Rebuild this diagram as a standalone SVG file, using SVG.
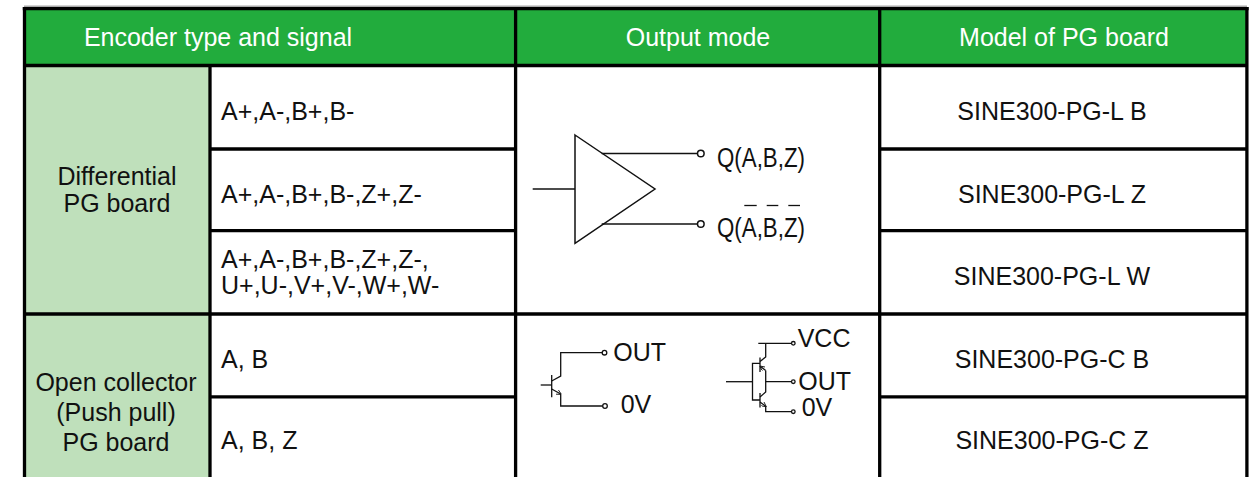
<svg xmlns="http://www.w3.org/2000/svg" width="1250" height="477" viewBox="0 0 1250 477">
<style>
.t{font-family:"Liberation Sans",Arial,sans-serif;font-size:25px;fill:#111}
.h{font-family:"Liberation Sans",Arial,sans-serif;font-size:25px;fill:#fff;text-anchor:middle}
.c{text-anchor:middle}
.g{stroke:#000;stroke-width:3.3;fill:none}
.s{stroke:#111;stroke-width:1.5;fill:none}
.s2{stroke:#111;stroke-width:1.3;fill:none}
.q{font-family:"Liberation Sans",Arial,sans-serif;font-size:27px;fill:#111}
</style>
<defs>
<marker id="ar" viewBox="0 0 6 6" refX="5" refY="3" markerWidth="5" markerHeight="5" orient="auto" markerUnits="userSpaceOnUse">
<path d="M0,0 L6,3 L0,6" fill="none" stroke="#111" stroke-width="1"/>
</marker>
</defs>
<rect x="0" y="0" width="1250" height="477" fill="#fff"/>
<g id="header">
<line x1="24" y1="6.3" x2="1247" y2="6.3" stroke="#aaa" stroke-width="1.5"/>
<rect x="24" y="8" width="1223" height="58" fill="#22AC3D"/>
<text class="h" x="218" y="46">Encoder type and signal</text>
<text class="h" x="698" y="46">Output mode</text>
<text class="h" x="1064" y="46">Model of PG board</text>
</g>
<g id="type-differential">
<rect x="24" y="66" width="186" height="248" fill="#BFE0BB"/>
<text class="t c" x="117" y="185">Differential</text>
<text class="t c" x="117" y="212">PG board</text>
</g>
<g id="type-open-collector">
<rect x="24" y="314" width="186" height="163" fill="#BFE0BB"/>
<text class="t c" x="116" y="390.5">Open collector</text>
<text class="t c" x="116" y="421">(Push pull)</text>
<text class="t c" x="116" y="450.5">PG board</text>
</g>
<g id="signals">
<text class="t" x="221" y="120">A+,A-,B+,B-</text>
<text class="t" x="221" y="202.5">A+,A-,B+,B-,Z+,Z-</text>
<text class="t" x="221" y="268">A+,A-,B+,B-,Z+,Z-,</text>
<text class="t" x="221" y="294">U+,U-,V+,V-,W+,W-</text>
<text class="t" x="221" y="368">A, B</text>
<text class="t" x="221" y="449">A, B, Z</text>
</g>
<g id="models">
<text class="t c" x="1052" y="120">SINE300-PG-L B</text>
<text class="t c" x="1052" y="202.5">SINE300-PG-L Z</text>
<text class="t c" x="1052" y="284.5">SINE300-PG-L W</text>
<text class="t c" x="1052" y="368">SINE300-PG-C B</text>
<text class="t c" x="1052" y="449">SINE300-PG-C Z</text>
</g>
<g id="output-differential">
<polygon class="s" points="575,135 655,189 575,243.3"/>
<line class="s" x1="532.7" y1="189" x2="575" y2="189"/>
<line class="s" x1="601.7" y1="153.5" x2="697.5" y2="153.5"/>
<line class="s" x1="601.7" y1="224" x2="697.5" y2="224"/>
<circle class="s" cx="700.8" cy="153.5" r="3.3" fill="#fff"/>
<circle class="s" cx="700.8" cy="224" r="3.3" fill="#fff"/>
<text class="q" x="717" y="166.7" textLength="88" lengthAdjust="spacingAndGlyphs">Q(A,B,Z)</text>
<text class="q" x="717" y="236.5" textLength="88" lengthAdjust="spacingAndGlyphs">Q(A,B,Z)</text>
<line class="s2" x1="744.3" y1="205.5" x2="756.7" y2="205.5"/>
<line class="s2" x1="766.7" y1="205.5" x2="778.3" y2="205.5"/>
<line class="s2" x1="788.3" y1="205.5" x2="800" y2="205.5"/>
</g>
<g id="output-open-collector">
<line class="s2" x1="551.7" y1="375" x2="551.7" y2="397.3"/>
<line class="s2" x1="540.7" y1="385" x2="551.7" y2="385"/>
<polyline class="s2" points="551.7,381 560.7,376 560.7,352.7 602.2,352.7"/>
<line class="s2" x1="551.7" y1="389" x2="560.7" y2="394" marker-end="url(#ar)"/>
<polyline class="s2" points="560.7,394 560.7,406 602.6,406"/>
<circle class="s2" cx="604.5" cy="352.7" r="2.3" fill="#fff"/>
<circle class="s2" cx="605" cy="406" r="2.3" fill="#fff"/>
<text class="t" x="613.3" y="360.7">OUT</text>
<text class="t" x="620.7" y="413.3">0V</text>
</g>
<g id="output-push-pull">
<line class="s2" x1="726" y1="381.7" x2="752.5" y2="381.7"/>
<polyline class="s2" points="760,363.3 752.5,363.3 752.5,400 760,400"/>
<line class="s2" x1="760" y1="357.5" x2="760" y2="372"/>
<line class="s2" x1="760" y1="393" x2="760" y2="407.5"/>
<polyline class="s2" points="760,361.5 765.7,357 765.7,343.3"/>
<line class="s2" x1="758.3" y1="343.3" x2="791.5" y2="343.3"/>
<line class="s2" x1="765.7" y1="370.5" x2="760.5" y2="366.5" marker-end="url(#ar)"/>
<polyline class="s2" points="765.7,370.5 765.7,381.7 791.5,381.7"/>
<polyline class="s2" points="760,397 765.7,392 765.7,381.7"/>
<line class="s2" x1="760" y1="402" x2="765.7" y2="406.3" marker-end="url(#ar)"/>
<polyline class="s2" points="765.7,406.3 765.7,411.7 791.5,411.7"/>
<circle class="s2" cx="793.3" cy="343.3" r="1.8" fill="#fff"/>
<circle class="s2" cx="793.3" cy="381.7" r="1.8" fill="#fff"/>
<circle class="s2" cx="793.3" cy="411.7" r="1.8" fill="#fff"/>
<text class="t" x="797.7" y="347.3">VCC</text>
<text class="t" x="798.3" y="389.5">OUT</text>
<text class="t" x="801.7" y="415.5">0V</text>
</g>
<g id="grid">
<line class="g" x1="22.8" y1="8.7" x2="1248.6" y2="8.7"/>
<line class="g" x1="24.5" y1="7" x2="24.5" y2="477"/>
<line class="g" x1="1246.9" y1="7" x2="1246.9" y2="477"/>
<line class="g" x1="24" y1="65.5" x2="1247" y2="65.5"/>
<line class="g" x1="210" y1="65.5" x2="210" y2="477"/>
<line class="g" x1="515.6" y1="7" x2="515.6" y2="477"/>
<line class="g" x1="879.7" y1="7" x2="879.7" y2="477"/>
<line class="g" x1="210" y1="149" x2="515.6" y2="149"/>
<line class="g" x1="879.7" y1="149" x2="1247" y2="149"/>
<line class="g" x1="210" y1="230.7" x2="515.6" y2="230.7"/>
<line class="g" x1="879.7" y1="230.7" x2="1247" y2="230.7"/>
<line class="g" x1="24" y1="314" x2="1247" y2="314"/>
<line class="g" x1="210" y1="396.8" x2="515.6" y2="396.8"/>
<line class="g" x1="879.7" y1="396.8" x2="1247" y2="396.8"/>
</g>
</svg>
